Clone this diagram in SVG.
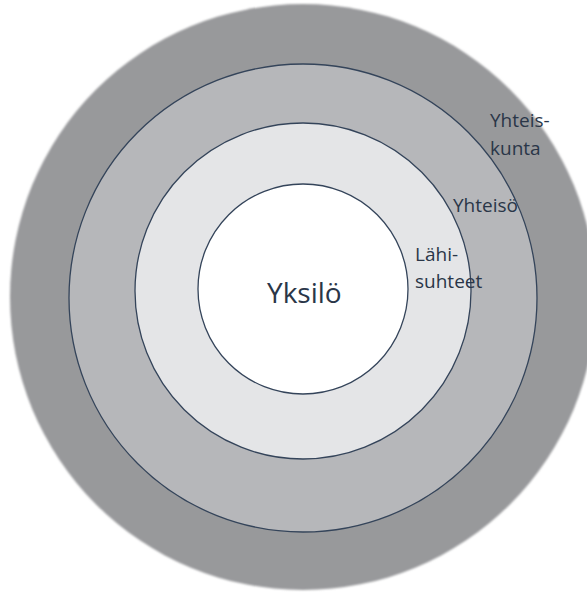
<svg xmlns="http://www.w3.org/2000/svg" width="587" height="592" viewBox="0 0 587 592">
  <defs>
    <filter id="soft" x="-5%" y="-5%" width="110%" height="110%">
      <feGaussianBlur stdDeviation="0.9"/>
    </filter>
    <style>
      .ring { stroke: #34445a; stroke-width: 1.3; }
      .lbl { font-family: "Open Sans", "Liberation Sans", sans-serif; font-size: 19px; fill: #2a3648; }
      .big { font-family: "Open Sans", "Liberation Sans", sans-serif; font-size: 28px; fill: #2a3648; }
    </style>
  </defs>
  <rect width="587" height="592" fill="#ffffff"/>
  <g id="yhteiskunta">
    <circle cx="303" cy="297" r="293" fill="#98999b" filter="url(#soft)"/>
  </g>
  <g id="yhteiso">
    <circle class="ring" cx="303" cy="298" r="234" fill="#b6b7ba"/>
  </g>
  <g id="lahisuhteet">
    <circle class="ring" cx="303" cy="291" r="168" fill="#e4e5e7"/>
  </g>
  <g id="yksilo">
    <circle class="ring" cx="303" cy="289" r="105" fill="#ffffff"/>
    <text class="big" x="267" y="303">Yksilö</text>
  </g>
  <g id="labels">
    <text class="lbl" x="490" y="127">Yhteis-</text>
    <text class="lbl" x="490" y="155">kunta</text>
    <text class="lbl" x="453" y="212">Yhteisö</text>
    <text class="lbl" x="415" y="261">Lähi-</text>
    <text class="lbl" x="415" y="288">suhteet</text>
  </g>
</svg>
